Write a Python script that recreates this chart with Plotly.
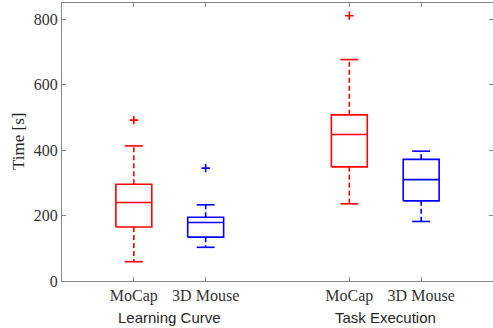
import plotly.graph_objects as go

groups = ["Learning Curve", "Task Execution"]
devices = ["MoCap", "3D Mouse"]
colors = ["#ff0000", "#0000ff"]

# stats per group, per device
lower_whisker = [[59, 103], [236, 182]]
q1 = [[165, 134], [349, 245]]
median = [[240, 179], [448, 310]]
q3 = [[296, 195], [508, 372]]
upper_whisker = [[413, 233], [677, 397]]
outliers = [[[492], [345]], [[811], []]]

y_ticks = [0, 200, 400, 600, 800]

fig = go.Figure()
half_box = 0.25
half_cap = 0.125
tickvals, ticktext = [], []
for gi, g in enumerate(groups):
    for di, d in enumerate(devices):
        p = gi * 3 + di + 1
        tickvals.append(p)
        ticktext.append(d)
        c = colors[di]
        a, b = p - half_box, p + half_box
        bx = [a, b, b, a, a, None, a, b]
        by = [q1[gi][di], q1[gi][di], q3[gi][di], q3[gi][di], q1[gi][di], None,
              median[gi][di], median[gi][di]]
        fig.add_trace(go.Scatter(x=bx, y=by, mode="lines",
                                 line=dict(color=c, width=1.6), showlegend=False, hoverinfo="skip"))
        wx = [p, p, None, p, p]
        wy = [q3[gi][di], upper_whisker[gi][di], None, q1[gi][di], lower_whisker[gi][di]]
        fig.add_trace(go.Scatter(x=wx, y=wy, mode="lines",
                                 line=dict(color=c, width=1.6, dash="5px,3px"),
                                 showlegend=False, hoverinfo="skip"))
        cx = [p - half_cap, p + half_cap, None, p - half_cap, p + half_cap]
        cy = [upper_whisker[gi][di], upper_whisker[gi][di], None,
              lower_whisker[gi][di], lower_whisker[gi][di]]
        fig.add_trace(go.Scatter(x=cx, y=cy, mode="lines",
                                 line=dict(color=c, width=1.6), showlegend=False, hoverinfo="skip"))
        if outliers[gi][di]:
            fig.add_trace(go.Scatter(x=[p] * len(outliers[gi][di]), y=outliers[gi][di],
                                     mode="markers",
                                     marker=dict(symbol="cross-thin", size=6, color=c,
                                                 line=dict(color=c, width=1.6)),
                                     showlegend=False))

for gi, g in enumerate(groups):
    fig.add_annotation(x=gi * 3 + 1.5, y=-0.133, xref="x", yref="paper", text=g,
                       showarrow=False, yanchor="middle",
                       font=dict(family="Liberation Sans", size=15, color="#262626"))

fig.add_annotation(x=-0.102, y=0.5, xref="paper", yref="paper", text="Time [s]",
                   textangle=-90, showarrow=False, xanchor="center", yanchor="middle",
                   font=dict(family="Liberation Serif", size=17, color="#262626"))

axis_color = "#888888"
tick_font = dict(family="Liberation Serif", size=16, color="#333333")
fig.update_layout(
    width=493, height=328,
    margin=dict(l=62, r=0, t=3, b=47),
    plot_bgcolor="white", paper_bgcolor="white",
    xaxis=dict(range=[0, 6], tickvals=tickvals, ticktext=ticktext,
               showgrid=False, zeroline=False, showline=True, linecolor=axis_color,
               linewidth=1, mirror="ticks", ticks="inside", ticklen=4, tickcolor=axis_color,
               tickfont=tick_font),
    yaxis=dict(range=[0, 850], tickvals=y_ticks, showgrid=False, zeroline=False,
               showline=True, linecolor=axis_color, linewidth=1, ticks="inside",
               ticklen=4, tickcolor=axis_color, tickfont=tick_font),
    yaxis2=dict(range=[0, 850], tickvals=y_ticks, overlaying="y", side="right",
                showgrid=False, zeroline=False, showline=False, ticks="inside",
                ticklen=4, tickcolor=axis_color, showticklabels=False),
)
fig.add_trace(go.Scatter(x=[None], y=[None], yaxis="y2", showlegend=False))

fig.write_html("out.html")
